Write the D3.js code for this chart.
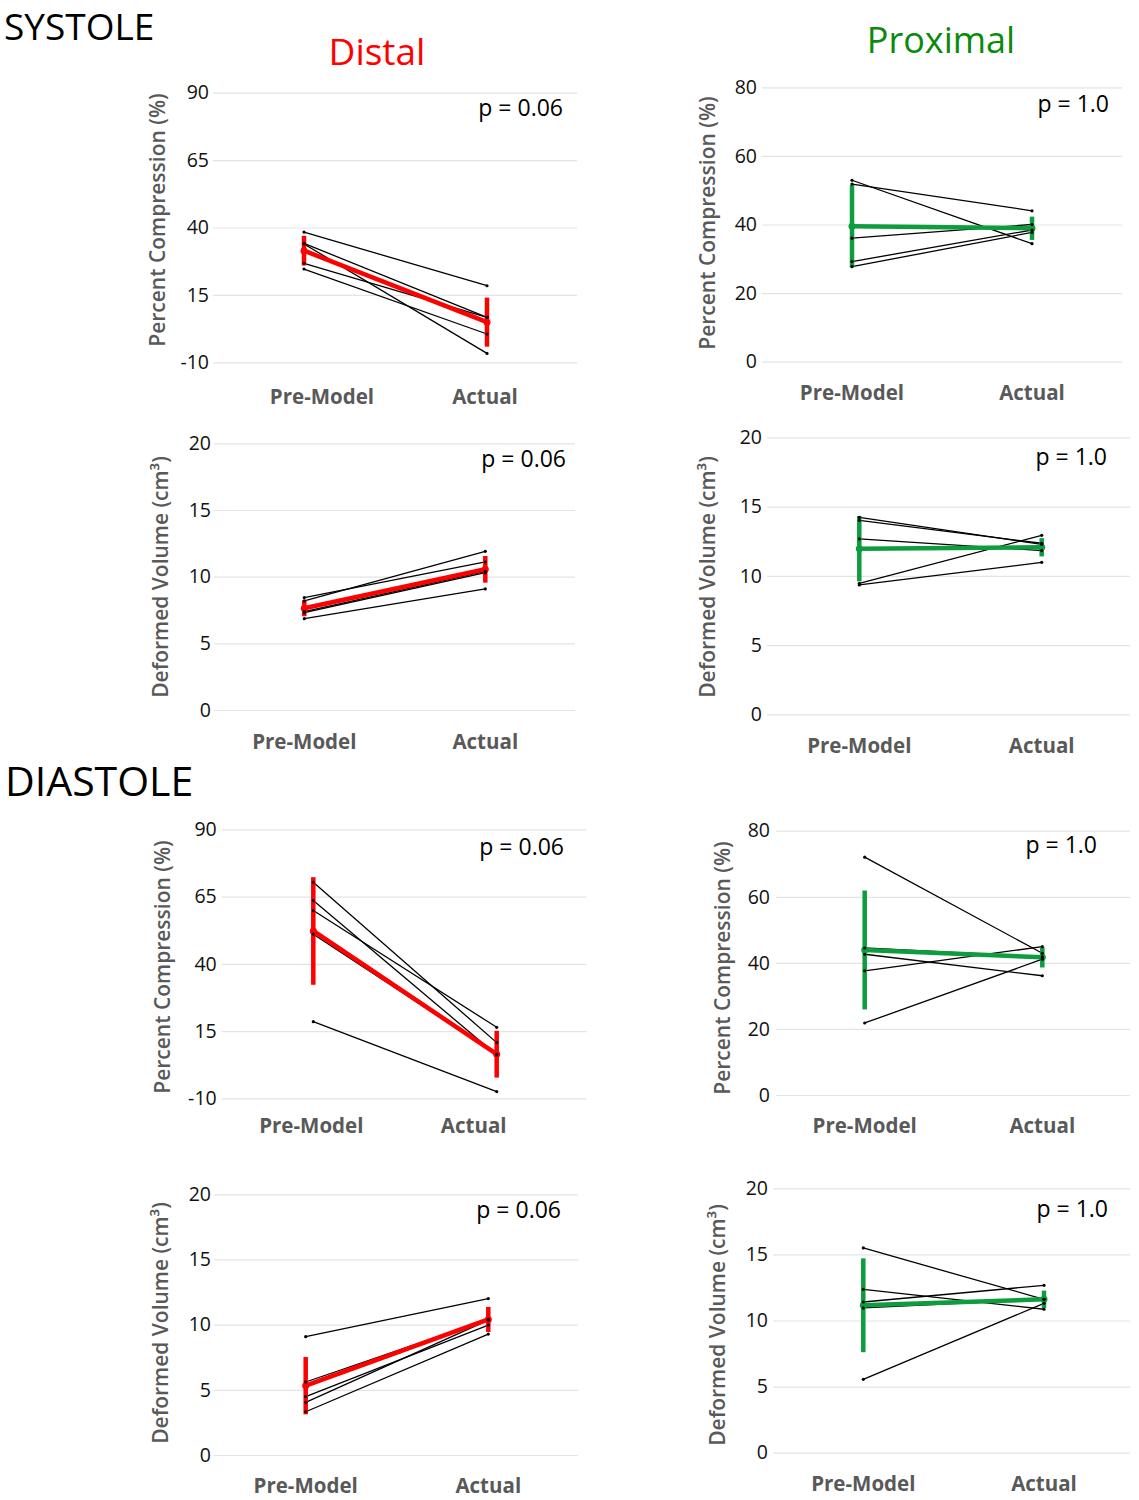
<!DOCTYPE html>
<html>
<head>
<meta charset="utf-8">
<script src="https://cdn.jsdelivr.net/npm/d3@7"></script>
<style>
  html, body { margin: 0; padding: 0; background: #fff; }
  svg { display: block; }
  text { font-family: "Open Sans", "Noto Sans", sans-serif; }
</style>
</head>
<body>
<svg id="chart" width="1139" height="1500"></svg>
<script>
// ---------------- DATA ----------------
const categories = ["Pre-Model", "Actual"];
const compTicksDistal = [-10, 15, 40, 65, 90];
const compTicksProximal = [0, 20, 40, 60, 80];
const volumeTicks = [0, 5, 10, 15, 20];
const pValues = ["p = 0.06", "p = 1.0", "p = 0.06", "p = 1.0", "p = 0.06", "p = 1.0", "p = 0.06", "p = 1.0"];

// Systole – Distal – Percent Compression
const sysDistCompPre = [38.3, 34.1, 33.9, 26.7, 24.6];
const sysDistCompAct = [18.4, 6.7, -6.7, 6.7, 0.5];
const sysDistCompMean = [31.4, 4.9];
const sysDistCompErr = [5.5, 9.1];
// Systole – Proximal – Percent Compression
const sysProxCompPre = [52.9, 51.8, 36.0, 29.2, 27.7];
const sysProxCompAct = [34.4, 44.0, 40.0, 38.4, 37.7];
const sysProxCompMean = [39.5, 38.9];
const sysProxCompErr = [12.0, 3.4];
// Systole – Distal – Deformed Volume
const sysDistVolPre = [8.43, 8.18, 7.38, 7.3, 6.85];
const sysDistVolAct = [11.1, 11.9, 10.4, 10.3, 9.08];
const sysDistVolMean = [7.63, 10.55];
const sysDistVolErr = [0.6, 1.0];
// Systole – Proximal – Deformed Volume
const sysProxVolPre = [14.22, 14.0, 12.66, 9.46, 9.34];
const sysProxVolAct = [12.27, 12.35, 11.82, 12.92, 10.97];
const sysProxVolMean = [11.96, 12.06];
const sysProxVolErr = [2.36, 0.66];
// Diastole – Distal – Percent Compression
const diaDistCompPre = [70.3, 63.5, 59.8, 51.0, 18.5];
const diaDistCompAct = [10.7, 6.1, 16.4, 6.3, -7.5];
const diaDistCompMean = [52.2, 6.4];
const diaDistCompErr = [20.0, 8.7];
// Diastole – Proximal – Percent Compression
const diaProxCompPre = [72.0, 42.6, 37.6, 21.8, 44.5];
const diaProxCompAct = [42.9, 36.1, 44.9, 41.1, 41.8];
const diaProxCompMean = [43.9, 41.7];
const diaProxCompErr = [18.0, 3.1];
// Diastole – Distal – Deformed Volume
const diaDistVolPre = [9.08, 5.6, 4.48, 4.04, 3.32];
const diaDistVolAct = [12.0, 10.4, 9.97, 10.35, 9.28];
const diaDistVolMean = [5.32, 10.4];
const diaDistVolErr = [2.2, 0.96];
// Diastole – Proximal – Deformed Volume
const diaProxVolPre = [15.49, 12.36, 11.4, 5.55, 10.95];
const diaProxVolAct = [11.6, 10.85, 12.66, 11.3, 11.6];
const diaProxVolMean = [11.15, 11.6];
const diaProxVolErr = [3.55, 0.66];

const compTitle = "Percent Compression (%)";
const volTitle = "Deformed Volume (cm\u00B3)";

// ---------------- LAYOUT ----------------
const RED = "#ff0000", GREEN = "#0c9d3f";
const svg = d3.select("#chart");
svg.append("rect").attr("width", 1139).attr("height", 1500).attr("fill", "#fff");

const panels = [
  { pre: sysDistCompPre, act: sysDistCompAct, mean: sysDistCompMean, err: sysDistCompErr, ticks: compTicksDistal, title: compTitle, p: pValues[0], color: RED,
    gx: [213, 577], gy: [362.3, 92.7], px: [304, 487], lblY: 397, lblOff: [18, -2], titleX: 157, titleY: 220, pX: 563, pY: 116, tickPad: 4 },
  { pre: sysProxCompPre, act: sysProxCompAct, mean: sysProxCompMean, err: sysProxCompErr, ticks: compTicksProximal, title: compTitle, p: pValues[1], color: GREEN,
    gx: [762, 1122], gy: [361.7, 87.3], px: [852, 1032], lblY: 393, lblOff: [0, 0], titleX: 707, titleY: 223, pX: 1109, pY: 112, tickPad: 5 },
  { pre: sysDistVolPre, act: sysDistVolAct, mean: sysDistVolMean, err: sysDistVolErr, ticks: volumeTicks, title: volTitle, p: pValues[2], color: RED,
    gx: [214, 575], gy: [710, 443.3], px: [304.3, 485.3], lblY: 742, lblOff: [0, 0], titleX: 160, titleY: 577, pX: 566, pY: 467, tickPad: 3 },
  { pre: sysProxVolPre, act: sysProxVolAct, mean: sysProxVolMean, err: sysProxVolErr, ticks: volumeTicks, title: volTitle, p: pValues[3], color: GREEN,
    gx: [767, 1130], gy: [714.3, 437.3], px: [859.3, 1041.7], lblY: 746, lblOff: [0, 0], titleX: 707, titleY: 577, pX: 1107, pY: 465, tickPad: 5 },
  { pre: diaDistCompPre, act: diaDistCompAct, mean: diaDistCompMean, err: diaDistCompErr, ticks: compTicksDistal, title: compTitle, p: pValues[4], color: RED,
    gx: [221.7, 586.7], gy: [1098.3, 829.3], px: [313.3, 496.7], lblY: 1126, lblOff: [-2, -23], titleX: 162, titleY: 967, pX: 564, pY: 855, tickPad: 5 },
  { pre: diaProxCompPre, act: diaProxCompAct, mean: diaProxCompMean, err: diaProxCompErr, ticks: compTicksProximal, title: compTitle, p: pValues[5], color: GREEN,
    gx: [776, 1130], gy: [1095, 830.7], px: [864.7, 1042.3], lblY: 1126, lblOff: [0, 0], titleX: 722, titleY: 968, pX: 1097, pY: 853, tickPad: 6 },
  { pre: diaDistVolPre, act: diaDistVolAct, mean: diaDistVolMean, err: diaDistVolErr, ticks: volumeTicks, title: volTitle, p: pValues[6], color: RED,
    gx: [214, 578], gy: [1455, 1194.3], px: [305.7, 488.3], lblY: 1486, lblOff: [0, 0], titleX: 160, titleY: 1323, pX: 561, pY: 1218, tickPad: 3 },
  { pre: diaProxVolPre, act: diaProxVolAct, mean: diaProxVolMean, err: diaProxVolErr, ticks: volumeTicks, title: volTitle, p: pValues[7], color: GREEN,
    gx: [773, 1130], gy: [1452.7, 1188.3], px: [863.3, 1044], lblY: 1484, lblOff: [0, 0], titleX: 717, titleY: 1325, pX: 1108, pY: 1217, tickPad: 5 }
];

function drawPanel(c) {
  const g = svg.append("g");
  const y = d3.scaleLinear().domain(d3.extent(c.ticks)).range(c.gy);
  const x = d3.scalePoint().domain(categories).range(c.px);

  // gridlines + tick labels via axis
  const axis = d3.axisLeft(y).tickValues(c.ticks).tickFormat(d => String(d))
    .tickSize(-(c.gx[1] - c.gx[0])).tickPadding(c.tickPad);
  const ag = g.append("g").attr("transform", `translate(${c.gx[0]},0)`).call(axis);
  ag.select(".domain").remove();
  ag.selectAll(".tick line").attr("stroke", "#e4e4e4").attr("stroke-width", 1.2);
  ag.selectAll(".tick text").attr("fill", "#111").attr("font-size", 19.5)
    .attr("font-family", '"Open Sans", sans-serif');

  // category labels
  g.selectAll("text.cat").data(categories).join("text").attr("class", "cat")
    .attr("x", (d, i) => x(d) + c.lblOff[i]).attr("y", c.lblY).attr("dy", "0.36em")
    .attr("text-anchor", "middle").attr("font-size", 20.5).attr("font-weight", 700)
    .attr("fill", "#595959").text(d => d);

  // y-axis title
  g.append("text").attr("transform", `translate(${c.titleX},${c.titleY}) rotate(-90)`)
    .attr("text-anchor", "middle").attr("dy", "0.36em").attr("font-size", 21).attr("font-weight", 600)
    .attr("fill", "#595959").text(c.title);

  // p value
  g.append("text").attr("x", c.pX).attr("y", c.pY).attr("text-anchor", "end")
    .attr("font-size", 23).attr("fill", "#000").text(c.p);

  // individual subject lines
  const pairs = c.pre.map((v, i) => [v, c.act[i]]);
  const line = d3.line().x((d, i) => x(categories[i])).y(d => y(d));
  g.selectAll("path.subj").data(pairs).join("path").attr("class", "subj")
    .attr("d", line).attr("fill", "none").attr("stroke", "#000").attr("stroke-width", 1.3);

  // error bars (no caps)
  g.selectAll("line.err").data(categories).join("line").attr("class", "err")
    .attr("x1", d => x(d)).attr("x2", d => x(d))
    .attr("y1", (d, i) => y(c.mean[i] + c.err[i])).attr("y2", (d, i) => y(c.mean[i] - c.err[i]))
    .attr("stroke", c.color).attr("stroke-width", 4.5);

  // mean line
  g.append("path").attr("d", line(c.mean)).attr("fill", "none")
    .attr("stroke", c.color).attr("stroke-width", 4.5);
  g.selectAll("circle.mean").data(c.mean).join("circle").attr("class", "mean")
    .attr("cx", (d, i) => x(categories[i])).attr("cy", d => y(d)).attr("r", 3.5).attr("fill", c.color);

  // subject markers
  const pts = [];
  pairs.forEach(p => p.forEach((v, i) => pts.push({ c: categories[i], v })));
  g.selectAll("circle.pt").data(pts).join("circle").attr("class", "pt")
    .attr("cx", d => x(d.c)).attr("cy", d => y(d.v)).attr("r", 1.6).attr("fill", "#000");
}

panels.forEach(drawPanel);

// headings
svg.append("text").attr("x", 4).attr("y", 40).attr("font-size", 37).attr("fill", "#000").text("SYSTOLE");
svg.append("text").attr("x", 5).attr("y", 796).attr("font-size", 41).attr("fill", "#000").text("DIASTOLE");
svg.append("text").attr("x", 377).attr("y", 65).attr("text-anchor", "middle").attr("font-size", 37).attr("fill", RED).text("Distal");
svg.append("text").attr("x", 941).attr("y", 53).attr("text-anchor", "middle").attr("font-size", 36).attr("fill", "#0a8a0a").text("Proximal");
</script>
</body>
</html>
